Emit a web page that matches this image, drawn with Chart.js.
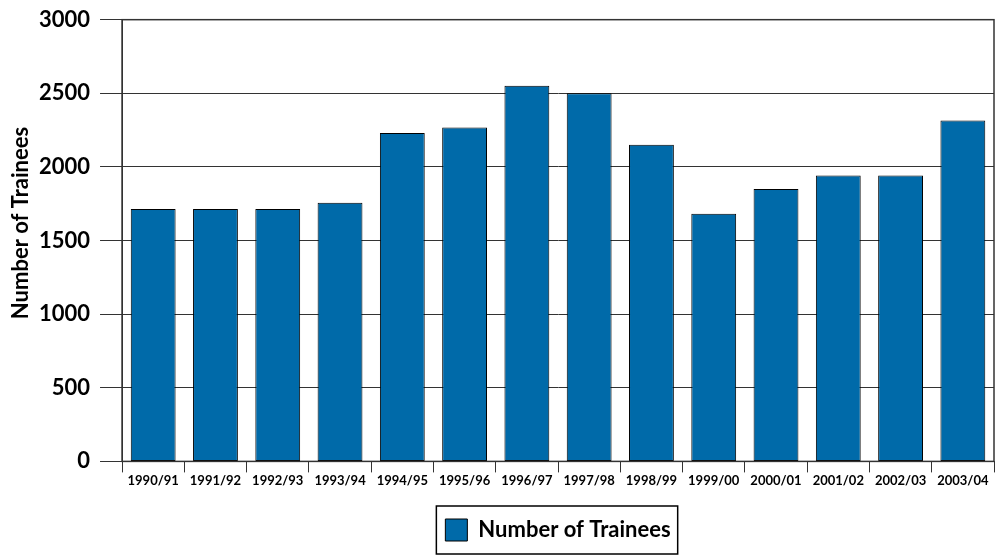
<!DOCTYPE html>
<html>
<head>
<meta charset="utf-8">
<script src="https://cdn.jsdelivr.net/npm/chart.js@4"></script>
<style>
  html, body { margin: 0; padding: 0; background: #fff; }
  #wrap { width: 997px; height: 559px; }
</style>
</head>
<body>
<div id="wrap"><canvas id="chart"></canvas></div>
<script>
// years on the x axis
const years = ['1990/91', '1991/92', '1992/93', '1993/94', '1994/95', '1995/96', '1996/97',
               '1997/98', '1998/99', '1999/00', '2000/01', '2001/02', '2002/03', '2003/04'];
// number of trainees per year
const trainees = [1715, 1715, 1715, 1757, 2231, 2267, 2551, 2500, 2150, 1682, 1850, 1941, 1941, 2315];
const seriesName = 'Number of Trainees';
const yTitle = 'Number of Trainees';

const FONT = 'Lato, "DejaVu Sans", sans-serif';

// frame around the plot area, box around the legend, y title a bit above centre
const extras = {
  id: 'extras',
  afterLayout(chart) {
    // legend sits under the middle of the plot, not the middle of the canvas
    const lg = chart.legend;
    const a = chart.chartArea;
    const shift = (a.left + a.right) / 2 - (lg.left + lg.right) / 2;
    lg.left += shift;
    lg.right += shift;
  },
  afterDraw(chart) {
    const ctx = chart.ctx;
    const a = chart.chartArea;
    ctx.save();
    ctx.strokeStyle = '#333';
    ctx.lineWidth = 1.5;
    ctx.strokeRect(a.left, a.top, a.right - a.left, a.bottom - a.top);

    const box = chart.legend.legendHitBoxes[0];
    if (box) {
      const cy = box.top + box.height / 2;
      ctx.strokeStyle = '#000';
      ctx.lineWidth = 1.5;
      ctx.strokeRect(box.left - 9, cy - 24, box.width + 16, 48);
    }

    ctx.translate(21, 223);
    ctx.rotate(-Math.PI / 2);
    ctx.fillStyle = '#000';
    ctx.font = 'bold 22px ' + FONT;
    ctx.textAlign = 'center';
    ctx.textBaseline = 'middle';
    ctx.fillText(yTitle, 0, 0);
    ctx.restore();
  }
};

new Chart(document.getElementById('chart'), {
  type: 'bar',
  data: {
    labels: years,
    datasets: [{
      label: seriesName,
      data: trainees,
      backgroundColor: '#006aa9',
      borderColor: '#000',
      borderWidth: 1,
      borderSkipped: false,
      barPercentage: 0.72,
      categoryPercentage: 1
    }]
  },
  options: {
    responsive: true,
    maintainAspectRatio: false,
    animation: false,
    layout: { padding: { left: 29, right: 3, top: 2, bottom: 8 } },
    plugins: {
      legend: {
        position: 'bottom',
        labels: {
          color: '#000',
          font: { family: FONT, size: 22, weight: 'bold' },
          boxWidth: 22,
          boxHeight: 22,
          padding: 29
        }
      },
      tooltip: { enabled: false }
    },
    scales: {
      x: {
        grid: { drawOnChartArea: false, color: '#333', tickLength: 11, offset: true },
        border: { color: '#333' },
        ticks: {
          color: '#000',
          font: { family: FONT, size: 13, weight: 'bold' },
          maxRotation: 0,
          autoSkip: false,
          padding: 1
        }
      },
      y: {
        min: 0,
        max: 3000,
        ticks: {
          stepSize: 500,
          color: '#000',
          font: { family: FONT, size: 22, weight: 'bold', lineHeight: 0.88 },
          padding: 10,
          callback: v => String(v)
        },
        grid: { color: '#333', tickLength: 22 },
        border: { color: '#333' }
      }
    }
  },
  plugins: [extras]
});
</script>
</body>
</html>
